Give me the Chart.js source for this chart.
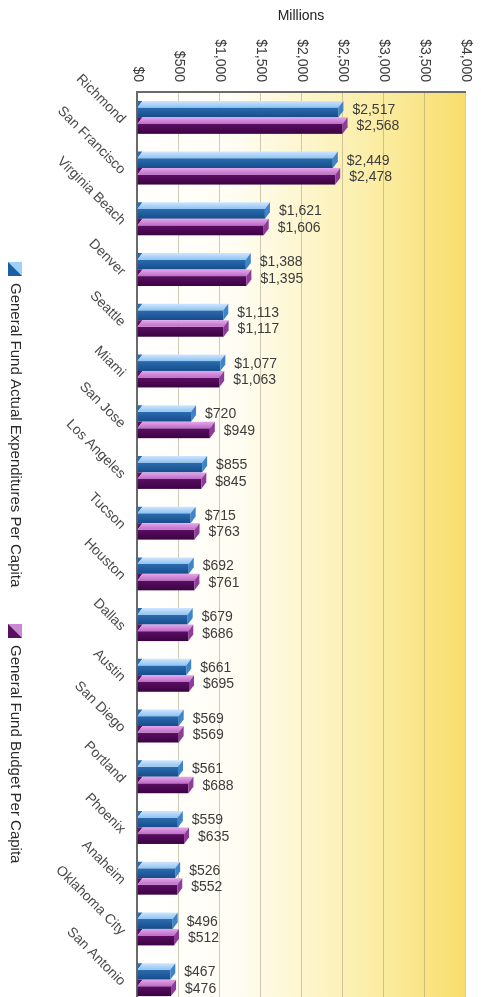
<!DOCTYPE html>
<html>
<head>
<meta charset="utf-8">
<script src="https://cdn.jsdelivr.net/npm/chart.js@4.4.1/dist/chart.umd.min.js"></script>
<style>
  html, body { margin: 0; padding: 0; background: #ffffff; overflow: hidden; }
  #wrap { position: relative; width: 481px; height: 1006px; }
</style>
</head>
<body>
<div id="wrap"><canvas id="chart"></canvas></div>
<script>
// ---- data ----
const cities = ['Richmond', 'San Francisco', 'Virginia Beach', 'Denver', 'Seattle', 'Miami',
  'San Jose', 'Los Angeles', 'Tucson', 'Houston', 'Dallas', 'Austin', 'San Diego',
  'Portland', 'Phoenix', 'Anaheim', 'Oklahoma City', 'San Antonio'];
const actualPerCapita = [2517, 2449, 1621, 1388, 1113, 1077, 720, 855, 715, 692, 679, 661, 569, 561, 559, 526, 496, 467];
const budgetPerCapita = [2568, 2478, 1606, 1395, 1117, 1063, 949, 845, 763, 761, 686, 695, 569, 688, 635, 552, 512, 476];
const seriesNames = ['General Fund Actual Expenditures Per Capita', 'General Fund Budget Per Capita'];
const xTickValues = [0, 500, 1000, 1500, 2000, 2500, 3000, 3500, 4000];
const xTickLabels = ['$0', '$500', '$1,000', '$1,500', '$2,000', '$2,500', '$3,000', '$3,500', '$4,000'];
const axisTitle = 'Millions';

// ---- styling ----
const FONT = '"Liberation Sans", Arial, Helvetica, sans-serif';
const TEXT = '#3c3c3c';
const palettes = [
  { topA: '#cfe6ff', topB: '#8fc3f2', frontA: '#2a6cb0', frontB: '#174c8a', side: '#3f83c8', key: '#1d5ea3', keyLight: '#9fd0fb' },
  { topA: '#e3a6ea', topB: '#bf6cc8', frontA: '#5a0f62', frontB: '#3c0243', side: '#8e3c98', key: '#5a0f62', keyLight: '#c98ad2' }
];

function money(v) { return '$' + v.toLocaleString('en-US'); }

// plot background: white fading to warm yellow on the right
const plotBackground = {
  id: 'plotBackground',
  beforeDraw(chart) {
    const { ctx, chartArea: a } = chart;
    const g = ctx.createLinearGradient(a.left, 0, a.right, 0);
    g.addColorStop(0, '#ffffff');
    g.addColorStop(0.3, '#fffdf3');
    g.addColorStop(0.5, '#fdf6cf');
    g.addColorStop(0.75, '#fbeca0');
    g.addColorStop(1, '#f8dd6c');
    ctx.save();
    ctx.fillStyle = g;
    ctx.fillRect(a.left, a.top, a.right - a.left, a.bottom - a.top);
    ctx.restore();
  }
};

// bevelled bars built from each bar element's geometry
const bars3d = {
  id: 'bars3d',
  afterDatasetsDraw(chart) {
    const ctx = chart.ctx;
    chart.data.datasets.forEach((ds, di) => {
      const pal = palettes[di];
      chart.getDatasetMeta(di).data.forEach((el) => {
        const { x, y, base, height } = el.getProps(['x', 'y', 'base', 'height'], true);
        const y0 = y - height / 2, y1 = y + height / 2;
        const d = height * 0.4;
        const dx = 5;
        const xe = Math.max(x, base + dx + 2);
        ctx.save();
        // front face
        let g = ctx.createLinearGradient(0, y0 + d, 0, y1);
        g.addColorStop(0, pal.frontA);
        g.addColorStop(1, pal.frontB);
        ctx.fillStyle = g;
        ctx.fillRect(base, y0 + d, xe - dx - base, y1 - y0 - d);
        // dark corner at the left of the top face
        ctx.beginPath();
        ctx.moveTo(base, y0);
        ctx.lineTo(base + dx, y0);
        ctx.lineTo(base, y0 + d);
        ctx.closePath();
        ctx.fillStyle = pal.frontA;
        ctx.fill();
        // top face
        g = ctx.createLinearGradient(0, y0, 0, y0 + d);
        g.addColorStop(0, pal.topA);
        g.addColorStop(1, pal.topB);
        ctx.beginPath();
        ctx.moveTo(base + dx, y0);
        ctx.lineTo(xe, y0);
        ctx.lineTo(xe - dx, y0 + d);
        ctx.lineTo(base, y0 + d);
        ctx.closePath();
        ctx.fillStyle = g;
        ctx.fill();
        // end cap
        ctx.beginPath();
        ctx.moveTo(xe - dx, y0 + d);
        ctx.lineTo(xe, y0);
        ctx.lineTo(xe, y1 - d);
        ctx.lineTo(xe - dx, y1);
        ctx.closePath();
        ctx.fillStyle = pal.side;
        ctx.fill();
        ctx.restore();
      });
    });
  }
};

// value labels to the right of each bar
const valueLabels = {
  id: 'valueLabels',
  afterDatasetsDraw(chart) {
    const ctx = chart.ctx;
    ctx.save();
    ctx.font = '14px ' + FONT;
    ctx.fillStyle = TEXT;
    ctx.textAlign = 'left';
    ctx.textBaseline = 'middle';
    chart.data.datasets.forEach((ds, di) => {
      chart.getDatasetMeta(di).data.forEach((el, i) => {
        const { x, y } = el.getProps(['x', 'y'], true);
        ctx.fillText(money(ds.data[i]), x + 9, y + 1);
      });
    });
    ctx.restore();
  }
};

// value axis labels, turned to read downward
const topTicks = {
  id: 'topTicks',
  afterDraw(chart) {
    const ctx = chart.ctx;
    const xs = chart.scales.x;
    ctx.save();
    ctx.font = '14px ' + FONT;
    ctx.fillStyle = TEXT;
    ctx.textAlign = 'right';
    ctx.textBaseline = 'middle';
    xTickValues.forEach((v, i) => {
      const px = xs.getPixelForValue(v);
      ctx.save();
      ctx.translate(px + 1, chart.chartArea.top - 10);
      ctx.rotate(Math.PI / 2);
      ctx.fillText(xTickLabels[i], 0, 0);
      ctx.restore();
    });
    ctx.restore();
  }
};

// legend running down the left edge
const sideLegend = {
  id: 'sideLegend',
  afterDraw(chart) {
    const ctx = chart.ctx;
    const starts = [262, 624];
    const cx = 15;
    ctx.save();
    seriesNames.forEach((name, i) => {
      const pal = palettes[i];
      const top = starts[i];
      const s = 14;
      // key swatch: split on the diagonal
      ctx.fillStyle = pal.keyLight;
      ctx.fillRect(cx - s / 2, top, s, s);
      ctx.beginPath();
      ctx.moveTo(cx - s / 2, top);
      ctx.lineTo(cx + s / 2, top + s);
      ctx.lineTo(cx - s / 2, top + s);
      ctx.closePath();
      ctx.fillStyle = pal.key;
      ctx.fill();
      // label
      ctx.save();
      ctx.translate(cx, top + s + 7);
      ctx.rotate(Math.PI / 2);
      ctx.font = '15px ' + FONT;
      ctx.fillStyle = '#2a2a2a';
      ctx.textAlign = 'left';
      ctx.textBaseline = 'middle';
      ctx.fillText(name, 0, 0);
      ctx.restore();
    });
    ctx.restore();
  }
};

new Chart(document.getElementById('chart'), {
  type: 'bar',
  data: {
    labels: cities,
    datasets: [
      { label: seriesNames[0], data: actualPerCapita, backgroundColor: 'rgba(0,0,0,0)', borderWidth: 0,
        barPercentage: 1.0, categoryPercentage: 0.65 },
      { label: seriesNames[1], data: budgetPerCapita, backgroundColor: 'rgba(0,0,0,0)', borderWidth: 0,
        barPercentage: 1.0, categoryPercentage: 0.65 }
    ]
  },
  options: {
    indexAxis: 'y',
    responsive: true,
    maintainAspectRatio: false,
    animation: false,
    layout: { padding: { top: 0, right: 16, bottom: 1, left: 0 } },
    plugins: {
      legend: { display: false },
      tooltip: { enabled: false }
    },
    scales: {
      x: {
        type: 'linear',
        position: 'top',
        min: 0,
        max: 4000,
        afterBuildTicks(scale) { scale.ticks = xTickValues.map(v => ({ value: v })); },
        afterFit(scale) { scale.height = 92; scale.paddingLeft = 0; scale.paddingRight = 0; },
        ticks: { display: false, stepSize: 500 },
        grid: { color: 'rgba(150,140,110,0.45)', lineWidth: 1, drawTicks: false },
        border: { display: true, color: '#6a6a6a', width: 2 },
        title: { display: true, text: axisTitle, color: '#222222',
          font: { family: FONT, size: 14 }, padding: { top: 8, bottom: 0 } }
      },
      y: {
        type: 'category',
        afterFit(scale) { scale.width = 137; scale.paddingTop = 0; scale.paddingBottom = 0; },
        grid: { display: false, drawTicks: false },
        border: { display: true, color: '#6a6a6a', width: 2 },
        ticks: {
          autoSkip: false,
          minRotation: -45,
          maxRotation: -45,
          padding: 14,
          labelOffset: 4,
          color: '#4a4a4a',
          font: { family: FONT, size: 14 }
        }
      }
    }
  },
  plugins: [plotBackground, bars3d, valueLabels, topTicks, sideLegend]
});
</script>
</body>
</html>
